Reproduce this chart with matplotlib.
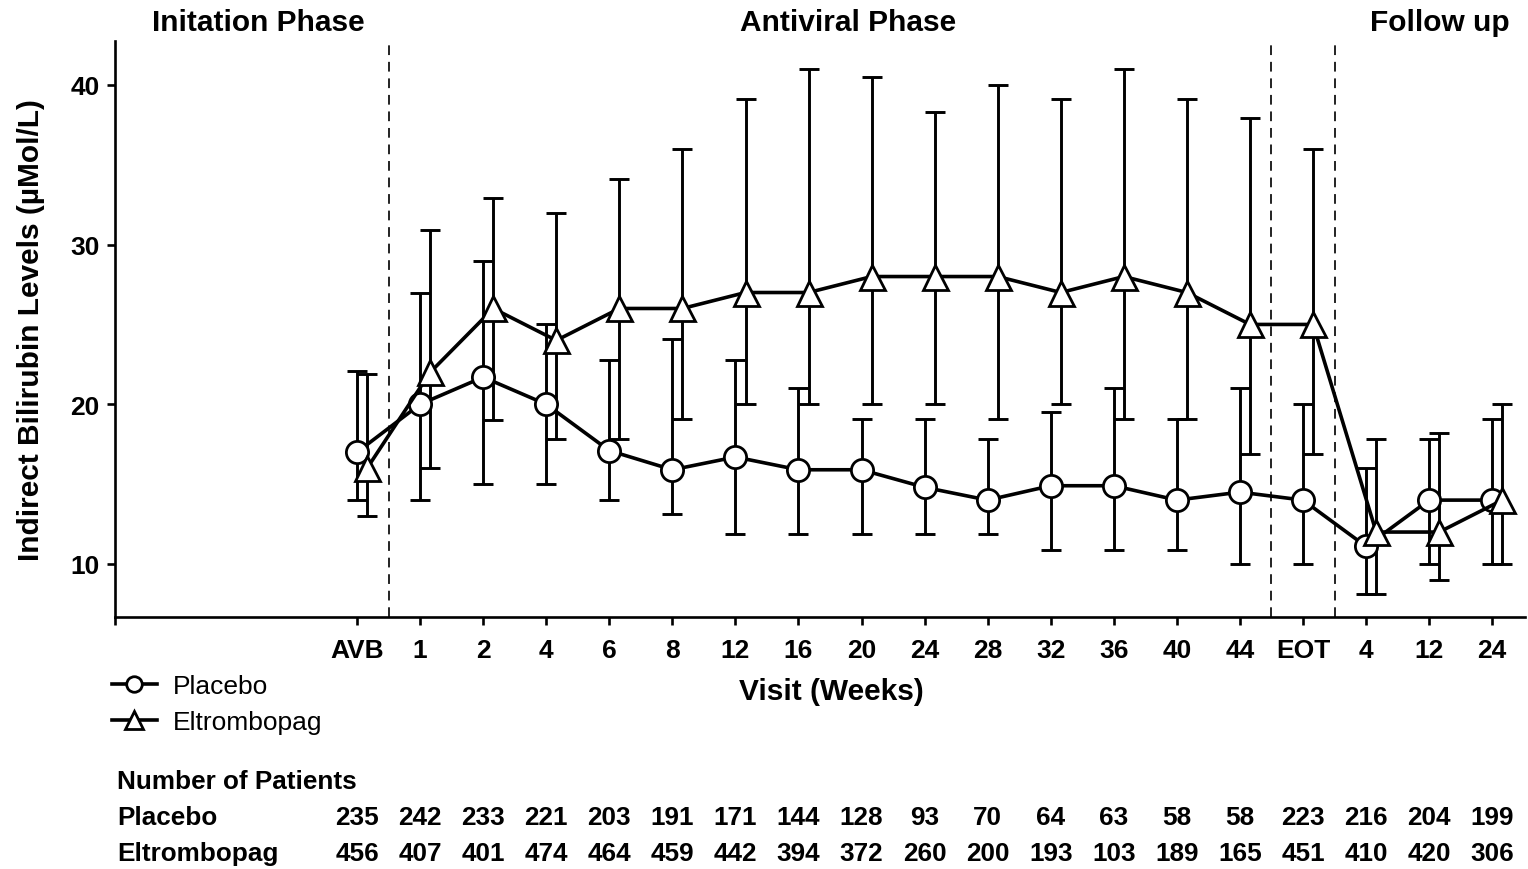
import matplotlib
matplotlib.use("Agg")
import matplotlib.pyplot as plt
import matplotlib.transforms as mtransforms
import numpy as np

plt.rcParams['font.family'] = ['Liberation Sans', 'DejaVu Sans']

# visits on the x axis
visits = ['AVB', '1', '2', '4', '6', '8', '12', '16', '20', '24', '28', '32',
          '36', '40', '44', 'EOT', '4', '12', '24']

# placebo: mean, lower, upper
plc_mean = [17.0, 20.0, 21.7, 20.0, 17.1, 15.9, 16.7, 15.9, 15.9, 14.8, 14.0, 14.9,
            14.9, 14.0, 14.5, 14.0, 11.1, 14.0, 14.0]
plc_low = [14.0, 14.0, 15.0, 15.0, 14.0, 13.1, 11.9, 11.9, 11.9, 11.9, 11.9, 10.9,
           10.9, 10.9, 10.0, 10.0, 8.1, 10.0, 10.0]
plc_up = [22.1, 27.0, 29.0, 25.0, 22.8, 24.1, 22.8, 21.0, 19.1, 19.1, 17.8, 19.5,
          21.0, 19.1, 21.0, 20.0, 16.0, 17.8, 19.1]

# eltrombopag: mean, lower, upper
elt_mean = [16.0, 22.0, 26.0, 24.0, 26.0, 26.0, 27.0, 27.0, 28.0, 28.0, 28.0, 27.0,
            28.0, 27.0, 25.0, 25.0, 12.0, 12.0, 14.0]
elt_low = [13.0, 16.0, 19.0, 17.8, 17.8, 19.1, 20.0, 20.0, 20.0, 20.0, 19.1, 20.0,
           19.1, 19.1, 16.9, 16.9, 8.1, 9.0, 10.0]
elt_up = [21.9, 30.9, 32.9, 32.0, 34.1, 36.0, 39.1, 41.0, 40.5, 38.3, 40.0, 39.1,
          41.0, 39.1, 37.9, 36.0, 17.8, 18.2, 20.0]

# number of patients
n_plc = [235, 242, 233, 221, 203, 191, 171, 144, 128, 93, 70, 64, 63, 58, 58, 223, 216, 204, 199]
n_elt = [456, 407, 401, 474, 464, 459, 442, 394, 372, 260, 200, 193, 103, 189, 165, 451, 410, 420, 306]

x = np.arange(len(visits))
shift = 0.16

fig = plt.figure(figsize=(15.28, 8.7), dpi=100)
ax = fig.add_axes([115/1528, 1-618/870, (1525-115)/1528, (618-42)/870])

pm = np.array(plc_mean); em = np.array(elt_mean)
ax.errorbar(x, pm, yerr=[pm - np.array(plc_low), np.array(plc_up) - pm], fmt='none',
            ecolor='black', elinewidth=2.1, capsize=7.5, capthick=2.1, zorder=2)
ax.errorbar(x + shift, em, yerr=[em - np.array(elt_low), np.array(elt_up) - em], fmt='none',
            ecolor='black', elinewidth=2.1, capsize=7.5, capthick=2.1, zorder=2)
l1, = ax.plot(x, pm, '-o', color='black', lw=2.6, ms=16, mfc='white', mec='black',
              mew=2.0, zorder=3)
l2, = ax.plot(x + shift, em, '-^', color='black', lw=2.6, ms=18, mfc='white', mec='black',
              mew=2.0, zorder=4)

# phase separators
for xv in [0.5, 14.5, 15.5]:
    ax.axvline(xv, color='#222222', lw=1.4, ls=(0, (5, 3.5)), zorder=1)

xl = -(357 - 115) / 63.06
ax.set_xlim(xl, 18.52)
ax.set_ylim(6.68, 42.75)
ax.set_xticks([xl] + list(x))
ax.set_xticklabels([''] + visits, fontsize=19, fontweight='bold')
ax.set_yticks([10, 20, 30, 40])
ax.set_yticklabels(['10', '20', '30', '40'], fontsize=19, fontweight='bold')
ax.tick_params(direction='out', length=6, width=1.9, pad=5)
ax.tick_params(axis='x', pad=9)
for s in ['top', 'right']:
    ax.spines[s].set_visible(False)
for s in ['left', 'bottom']:
    ax.spines[s].set_linewidth(1.9)

ax.set_ylabel('Indirect Bilirubin Levels (µMol/L)', fontsize=21.5, fontweight='bold', labelpad=18)

fig.text(831/1528, 1-692/870, 'Visit (Weeks)', ha='center', va='center',
         fontsize=21.5, fontweight='bold')
fig.text(258/1528, 1-23/870, 'Initation Phase', ha='center', va='center', fontsize=21.5, fontweight='bold')
fig.text(848/1528, 1-23/870, 'Antiviral Phase', ha='center', va='center', fontsize=21.5, fontweight='bold')
fig.text(1440/1528, 1-23/870, 'Follow up', ha='center', va='center', fontsize=21.5, fontweight='bold')

ax.legend([l1, l2], ['Placebo', 'Eltrombopag'], loc='upper left',
          bbox_to_anchor=(112/1528, 1-675/870), bbox_transform=fig.transFigure,
          frameon=False, fontsize=19, handlelength=1.7, handletextpad=0.6,
          labelspacing=0.45, borderpad=0, borderaxespad=0, markerscale=0.7)

# patient numbers table
trans = mtransforms.blended_transform_factory(ax.transData, fig.transFigure)
fig.text(117/1528, 1-782/870, 'Number of Patients', ha='left', va='center', fontsize=18.8, fontweight='bold')
fig.text(117/1528, 1-818/870, 'Placebo', ha='left', va='center', fontsize=18.8, fontweight='bold')
fig.text(117/1528, 1-854/870, 'Eltrombopag', ha='left', va='center', fontsize=18.8, fontweight='bold')
for i in range(len(visits)):
    ax.text(x[i], 1-818/870, str(n_plc[i]), transform=trans, ha='center', va='center',
            fontsize=18.8, fontweight='bold', clip_on=False)
    ax.text(x[i], 1-854/870, str(n_elt[i]), transform=trans, ha='center', va='center',
            fontsize=18.8, fontweight='bold', clip_on=False)

fig.savefig('out.png', dpi=100)
